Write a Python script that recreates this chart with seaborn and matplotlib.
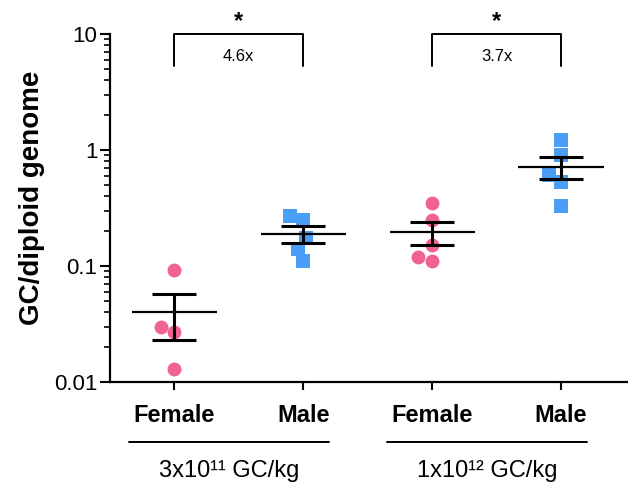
import numpy as np
import pandas as pd
import matplotlib
matplotlib.use("Agg")
import matplotlib.pyplot as plt
import matplotlib.transforms as mtransforms
import seaborn as sns

# --- DATA ---
GROUPS = ["F_low", "M_low", "F_high", "M_high"]
TICK_LABELS = ["Female", "Male", "Female", "Male"]
DOSE_LABELS = ["3x10\u00b9\u00b9 GC/kg", "1x10\u00b9\u00b2 GC/kg"]
FEMALE_LOW = [0.092, 0.030, 0.027, 0.013]
MALE_LOW = [0.27, 0.25, 0.174, 0.14, 0.11]
FEMALE_HIGH = [0.35, 0.25, 0.152, 0.11, 0.12]
MALE_HIGH = [1.22, 0.91, 0.61, 0.53, 0.33]
FOLD_LABELS = ["4.6x", "3.7x"]
Y_TICKS = [0.01, 0.1, 1, 10]
Y_TICK_LABELS = ["0.01", "0.1", "1", "10"]

PINK = "#F0628F"
BLUE = "#4A9EF6"


def build_frame():
    rows = []
    for g, sex, vals in [("F_low", "Female", FEMALE_LOW), ("M_low", "Male", MALE_LOW),
                         ("F_high", "Female", FEMALE_HIGH), ("M_high", "Male", MALE_HIGH)]:
        for v in vals:
            rows.append({"group": g, "sex": sex, "value": v})
    return pd.DataFrame(rows)


def main():
    df = build_frame()
    sns.set_style("ticks")
    plt.rcParams["font.family"] = ["Liberation Sans", "DejaVu Sans"]
    for key in ["text.color", "axes.labelcolor", "xtick.color", "ytick.color", "axes.edgecolor"]:
        plt.rcParams[key] = "black"

    fig = plt.figure(figsize=(6.28, 4.88), dpi=100)
    ax = fig.add_axes([0.175, 0.217, 0.825, 0.713])
    ax.set_yscale("log")
    ax.set_ylim(0.01, 10)

    # points
    sns.swarmplot(data=df[df.sex == "Female"], x="group", y="value", order=GROUPS,
                  color=PINK, marker="o", size=10, linewidth=0, ax=ax, zorder=2)
    sns.swarmplot(data=df[df.sex == "Male"], x="group", y="value", order=GROUPS,
                  color=BLUE, marker="s", size=9.5, linewidth=0, ax=ax, zorder=2)

    # mean +/- SEM
    stats = df.groupby("group")["value"].agg(["mean", "sem"]).reindex(GROUPS)
    pos = np.arange(len(GROUPS))
    ax.errorbar(pos, stats["mean"], yerr=stats["sem"], fmt="none", ecolor="black",
                elinewidth=2.2, capsize=16, capthick=2.2, zorder=3)
    ax.hlines(stats["mean"], pos - 0.33, pos + 0.33, color="black", lw=1.6, zorder=3)

    ax.set_xlim(-0.5, 3.52)
    ax.set_yticks(Y_TICKS, Y_TICK_LABELS)
    ax.set_xticks(pos, TICK_LABELS)
    ax.set_xlabel("")
    ax.set_ylabel("GC/diploid genome", fontsize=20, fontweight="bold")
    ax.yaxis.set_label_coords(-0.125, 0.53)

    for lab in ax.get_xticklabels():
        lab.set_fontweight("bold")
    ax.tick_params(axis="x", labelsize=17, length=6, width=1.5, pad=10)
    ax.tick_params(axis="y", which="major", labelsize=16, length=7, width=1.5, pad=2)
    ax.tick_params(axis="y", which="minor", length=4, width=1.2)
    sns.despine(ax=ax)
    for sp in ["left", "bottom"]:
        ax.spines[sp].set_linewidth(1.6)
    ax.spines["bottom"].set_bounds(-0.5, 3.6)

    # significance brackets
    for k, fold in enumerate(FOLD_LABELS):
        a, b = pos[2 * k], pos[2 * k + 1]
        ax.plot([a, a, b, b], [5.3, 10, 10, 5.3], color="black", lw=1.4, clip_on=False)
        ax.text((a + b) / 2, 6.4, fold, ha="center", va="center", fontsize=12)
        ax.text((a + b) / 2, 12.9, "*", ha="center", va="center", fontsize=17,
                fontweight="bold")

    # dose group lines and labels under the axis
    trans = mtransforms.blended_transform_factory(ax.transData, ax.transAxes)
    for k, dose in enumerate(DOSE_LABELS):
        x0, x1 = pos[2 * k] - 0.35, pos[2 * k + 1] + 0.2
        ax.plot([x0, x1], [-0.172, -0.172], color="black", lw=1.4,
                transform=trans, clip_on=False)
        ax.text((x0 + x1) / 2, -0.255, dose, ha="center", va="center",
                fontsize=17, transform=trans)

    fig.savefig("out.png", dpi=100)


if __name__ == "__main__":
    main()
